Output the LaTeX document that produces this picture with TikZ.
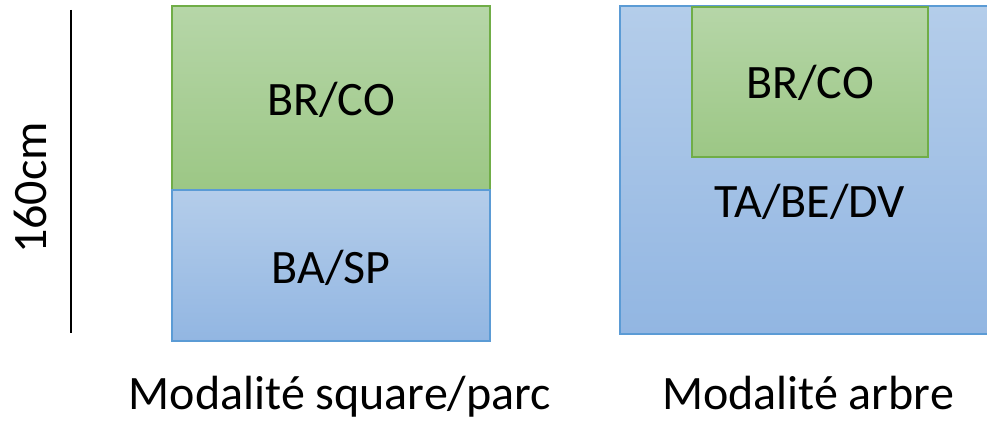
\documentclass[tikz,border=0pt]{standalone}
\usepackage{fontspec}
\setmainfont{Carlito}
\usetikzlibrary{positioning}
\definecolor{vertHaut}{HTML}{B6D6A8}
\definecolor{vertBas}{HTML}{9CC785}
\definecolor{vertTrait}{HTML}{70AD47}
\definecolor{bleuHaut}{HTML}{B4CDEA}
\definecolor{bleuBas}{HTML}{92B6E2}
\definecolor{bleuTrait}{HTML}{5B9BD5}
\tikzset{
  vert/.style={draw=vertTrait,top color=vertHaut,bottom color=vertBas,inner sep=0pt,line width=0.6pt},
  bleu/.style={draw=bleuTrait,top color=bleuHaut,bottom color=bleuBas,inner sep=0pt,line width=0.6pt},
  texte/.style={font=\fontsize{24}{28}\selectfont,inner sep=0pt}
}

\begin{document}
\begin{tikzpicture}[x=0.5pt,y=-0.5pt]
    \useasboundingbox (0,0) rectangle (987,421);
    % hauteur
    \coordinate (h1) at (71,10);
    \coordinate (h2) at (71,333);
    \draw[line width=0.6pt] (h1) -- (h2);
    \node[texte,rotate=90] (haut) at (30,188) {160cm};
    % modalite square/parc
    \node[vert,minimum width=159pt,minimum height=92pt] (brco1) at (331,98) {};
    \node[bleu,minimum width=159pt,minimum height=75.5pt] (basp) at (331,265.5) {};
    \node[texte] (t1) at (331,100) {BR/CO};
    \node[texte] (t2) at (331,268) {BA/SP};
    % modalite arbre
    \node[bleu,minimum width=185pt,minimum height=164pt] (tabe) at (805,170) {};
    \node[vert,minimum width=118pt,minimum height=75pt] (brco2) at (810,82) {};
    \node[texte] (t3) at (810,202) {TA/BE/DV};
    \node[texte] (t4) at (810,83) {BR/CO};
    % legendes
    \node[texte,anchor=base] (leg1) at (340,410) {Modalité square/parc};
    \node[texte,anchor=base] (leg2) at (808,410) {Modalité arbre};
\end{tikzpicture}
\end{document}
